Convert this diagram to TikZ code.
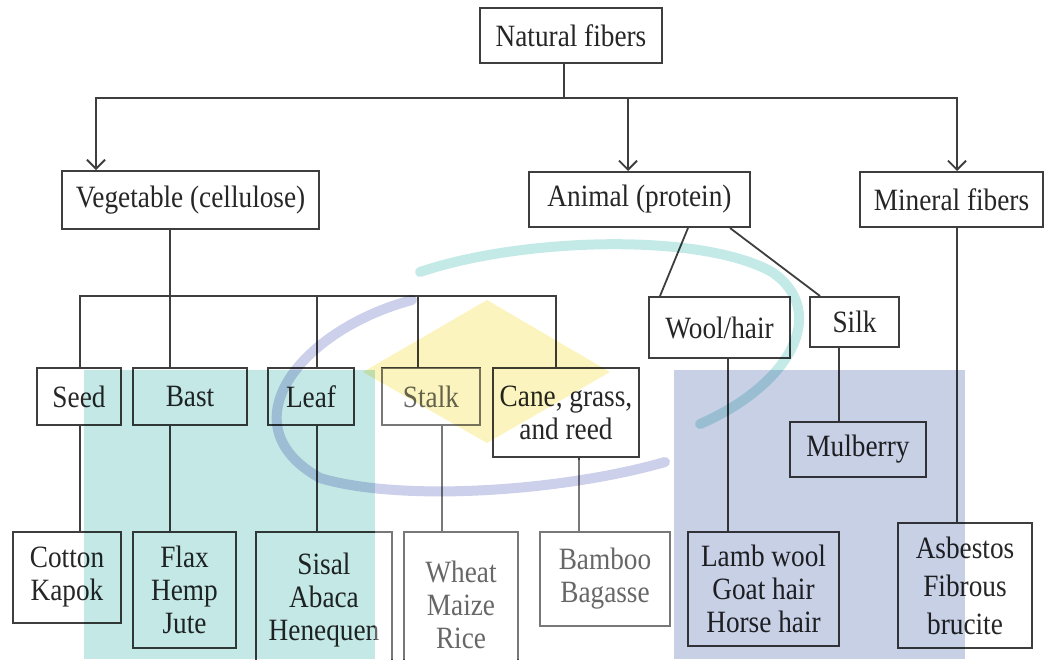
\documentclass[tikz,border=0pt]{standalone}
\usepackage{fontspec}
\setmainfont[FakeStretch=0.88]{Liberation Serif}
\usepackage{tikz}
\usetikzlibrary{arrows.meta}
\usetikzlibrary{positioning}
\definecolor{linegray}{RGB}{62,62,62}
\definecolor{wmteal}{RGB}{196,232,230}
\definecolor{wmblue}{RGB}{200,208,230}
\definecolor{wmyellow}{RGB}{252,244,190}
\definecolor{ringblue}{RGB}{204,208,234}
\definecolor{ringteal}{RGB}{196,234,232}
\tikzset{
  box/.style={draw=linegray, line width=2pt, inner sep=0pt, align=center,
    font=\fontsize{31}{33}\selectfont, text=black!85},
  conn/.style={draw=linegray, line width=1.8pt},
  arr/.style={conn, -{Straight Barb[length=9pt,width=18pt,line width=1.8pt]}},
  wm/.style={blend mode=multiply}
}

\begin{document}
\begin{tikzpicture}[x=1pt, y=-1pt]
    \useasboundingbox (0,0) rectangle (1044,659);

    % first two levels
    \node[box, minimum width=182pt, minimum height=55pt] (nat) at (571,35.5) {Natural fibers};
    \node[box, minimum width=257pt, minimum height=58pt] (veg) at (190.5,200) {Vegetable (cellulose)};
    \node[box, minimum width=221pt, minimum height=55pt] (ani) at (639.5,199.5) {Animal (protein)};
    \node[box, minimum width=183pt, minimum height=55pt] (min) at (951.5,199.5) {Mineral fibers};

    % fiber groups
    \node[box, minimum width=84pt, minimum height=57pt] (seed) at (79,396.5) {Seed};
    \node[box, minimum width=114pt, minimum height=57pt] (bast) at (190,396.5) {Bast};
    \node[box, minimum width=86pt, minimum height=57pt] (leaf) at (311,396.5) {Leaf};
    \node[box, minimum width=98pt, minimum height=57pt] (stalk) at (431,396.5) {Stalk};
    \node[box, minimum width=146pt, minimum height=89pt] (cane) at (566,412.5) {Cane, grass,\\and reed};
    \node[box, minimum width=141pt, minimum height=61pt] (wool) at (719.5,327.5) {Wool/hair};
    \node[box, minimum width=89pt, minimum height=50pt] (silk) at (854.5,322) {Silk};
    \node[box, minimum width=136pt, minimum height=55pt] (mulb) at (858,449.5) {Mulberry};

    % examples
    \node[box, minimum width=108pt, minimum height=91pt] (cotton) at (67,577.5) {Cotton\\Kapok};
    \node[box, minimum width=103pt, minimum height=116pt] (flax) at (184.5,590) {Flax\\Hemp\\Jute};
    \node[box, minimum width=136pt, minimum height=136pt] (sisal) at (324,600) {Sisal\\Abaca\\Henequen};
    \node[box, minimum width=114pt, minimum height=146pt] (wheat) at (461,605) {Wheat\\Maize\\Rice};
    \node[box, minimum width=130pt, minimum height=94pt] (bamboo) at (605,579) {Bamboo\\Bagasse};
    \node[box, minimum width=151pt, minimum height=114pt] (lamb) at (763.5,589) {Lamb wool\\Goat hair\\Horse hair};
    \node[box, minimum width=134pt, minimum height=125pt,
      font=\fontsize{31}{38}\selectfont] (asb) at (965,585.5) {Asbestos\\Fibrous\\brucite};

    % top split
    \coordinate (hub) at (564,98);
    \draw[conn] (nat.south -| hub) -- (hub);
    \draw[arr] (hub) -| ([xshift=-94.5pt]veg.north);
    \draw[arr] (hub) -| ([xshift=-11.5pt]ani.north);
    \draw[arr] (hub) -| ([xshift=5.5pt]min.north);

    % vegetable branch
    \coordinate (vbus) at (170,296);
    \draw[conn] ([xshift=-20.5pt]veg.south) -- (vbus);
    \draw[conn] (vbus) -| ([xshift=1pt]seed.north);
    \draw[conn] (vbus) -| ([xshift=-20pt]bast.north);
    \draw[conn] (vbus) -| ([xshift=6pt]leaf.north);
    \draw[conn] (vbus) -| ([xshift=-13pt]stalk.north);
    \draw[conn] (vbus) -| ([xshift=-10pt]cane.north);
    \draw[conn] ([xshift=1pt]seed.south) -- ([xshift=13pt]cotton.north);
    \draw[conn] ([xshift=-20pt]bast.south) -- ([xshift=-14.5pt]flax.north);
    \draw[conn] ([xshift=6pt]leaf.south) -- ([xshift=-7pt]sisal.north);
    \draw[conn] ([xshift=11pt]stalk.south) -- ([xshift=-19pt]wheat.north);
    \draw[conn] ([xshift=13pt]cane.south) -- ([xshift=-26pt]bamboo.north);

    % animal and mineral branches
    \draw[conn] ([xshift=48.5pt]ani.south) -- ([xshift=-59.5pt]wool.north);
    \draw[conn] ([xshift=90.5pt]ani.south) -- ([xshift=-34.5pt]silk.north);
    \draw[conn] ([xshift=8.5pt]wool.south) -- ([xshift=-35.5pt]lamb.north);
    \draw[conn] ([xshift=-15.5pt]silk.south) -- ([xshift=-19pt]mulb.north);
    \draw[conn] ([xshift=5.5pt]min.south) -- ([xshift=-8pt]asb.north);

    % watermark
    \fill[white, opacity=0.3] (375,368) -- (490,368) -- (490,460) -- (674,460)
      -- (674,659) -- (375,659) -- cycle;
    \fill[wm, wmteal] (84,370) rectangle (375,659);
    \fill[wm, wmblue] (674,370) rectangle (965,659);
    \fill[wm, wmyellow] (487,300) -- (610,372) -- (487,443) -- (363,372) -- cycle;
    \draw[wm, ringblue, line width=10pt, line cap=round]
      (412,300) .. controls (300,330) and (225,425) .. (320,478)
      .. controls (400,502) and (560,492) .. (665,462);
    \draw[wm, ringteal, line width=10pt, line cap=round]
      (420,272) .. controls (520,238) and (700,232) .. (772,272)
      .. controls (830,312) and (790,385) .. (700,424);
\end{tikzpicture}
\end{document}
